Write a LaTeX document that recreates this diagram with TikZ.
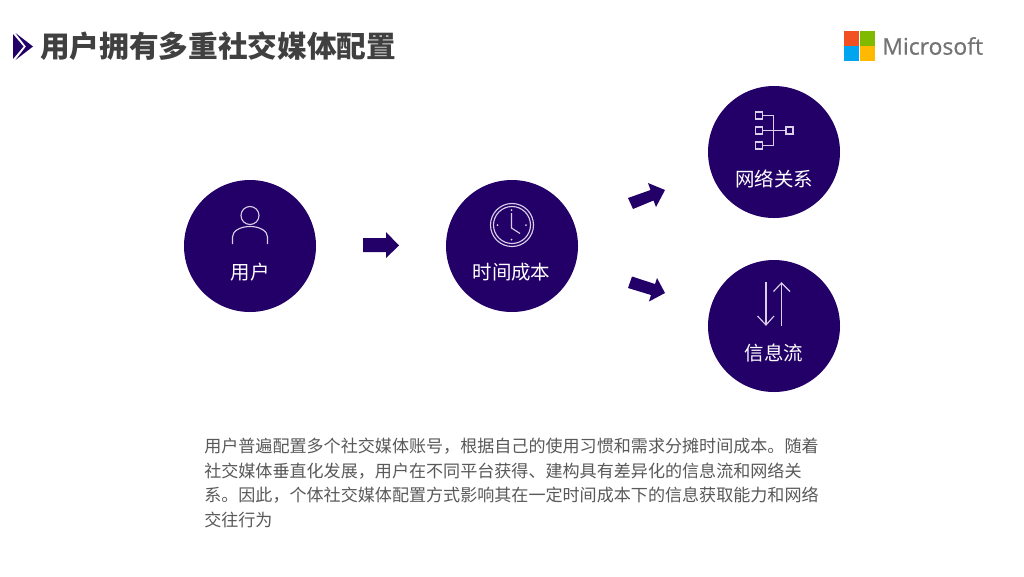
\documentclass[tikz,border=0pt]{standalone}
\usepackage{fontspec}
\setmainfont{Noto Sans CJK SC}
\newfontfamily\latinfont[FakeBold=0.6]{Open Sans}
\definecolor{deep}{HTML}{230068}
\definecolor{ink}{HTML}{404040}
\definecolor{bodyink}{HTML}{595959}
\definecolor{iconline}{HTML}{D9CFE8}
\definecolor{msgray}{HTML}{737373}
\tikzset{
  bubble/.style={circle,fill=deep,draw=none,minimum size=99pt,inner sep=0pt},
  bubbletext/.style={text=white,font=\fontsize{14.6pt}{16pt}\selectfont,inner sep=0pt,anchor=center},
  bodyline/.style={text=bodyink,font=\fontsize{12.8pt}{14pt}\selectfont,inner sep=0pt,anchor=west},
  iconstroke/.style={draw=iconline,line width=0.85pt},
  blockarrow/.style={fill=deep,draw=none},
  tile/.style={draw=none,minimum size=10.8pt,inner sep=0pt,anchor=north west}
}
\begin{document}
\begin{tikzpicture}[x=0.75pt,y=-0.75pt]
\useasboundingbox (0,0) rectangle (1024,576);
\fill[white] (0,0) rectangle (1024,576);
% title
\fill[deep] (15.5,33) -- (33,46.5) -- (15.5,60) -- (26,46.5) -- cycle;
\fill[deep] (13,34) -- (23.5,46.5) -- (13,59) -- cycle;
\node[text=ink,font=\fontsize{22.25pt}{24pt}\selectfont\bfseries,inner sep=0pt,anchor=west] (title) at (40,46) {用户拥有多重社交媒体配置};
% logo
\node[tile,fill={rgb,255:red,242;green,80;blue,34}] (t1) at (844,31) {};
\node[tile,fill={rgb,255:red,127;green,186;blue,0}] (t2) at (860,31) {};
\node[tile,fill={rgb,255:red,0;green,164;blue,239}] (t3) at (844,46) {};
\node[tile,fill={rgb,255:red,255;green,185;blue,0}] (t4) at (860,46) {};
\node[text=msgray,font=\latinfont\fontsize{17.2pt}{20pt}\selectfont,inner sep=0pt,anchor=west] (ms) at (882,46) {Microsoft};
% bubbles
\node[bubble] (user) at (250,246) {};
\node[bubble] (time) at (512,246) {};
\node[bubble] (net) at (774,152) {};
\node[bubble] (info) at (774,326) {};
\node[bubbletext] (userlabel) at (250,272) {用户};
\node[bubbletext] (timelabel) at (511.5,272) {时间成本};
\node[bubbletext] (netlabel) at (774,179) {网络关系};
\node[bubbletext] (infolabel) at (774,353) {信息流};
% user icon
\draw[iconstroke] (250,215.5) circle (9);
\draw[iconstroke] (232.5,244) -- (232.5,237) .. controls (232.5,231) and (240,226.5) .. (250,226.5) .. controls (260,226.5) and (267.5,231) .. (267.5,237) -- (267.5,244);
% clock icon
\draw[iconstroke] (512,225) circle (21.5);
\draw[iconstroke] (512,225) circle (18.5);
\draw[iconstroke] (511.5,213) -- (511.5,228) -- (520,233.5);
\foreach \a/\b in {511.5/210,511.5/239.5,497.5/225,526/225} \fill[iconline] (\a,\b) circle (1);
% network icon
\draw[iconstroke] (755.5,112) rectangle (762.5,119);
\draw[iconstroke] (755.5,127) rectangle (762.5,134);
\draw[iconstroke] (755.5,142) rectangle (762.5,149);
\draw[iconstroke] (786,127) rectangle (793,134);
\draw[iconstroke] (762.5,115.5) -- (773.5,115.5) -- (773.5,145.5) -- (762.5,145.5);
\draw[iconstroke] (762.5,130.5) -- (786,130.5);
% flow icon
\draw[iconstroke] (766,282) -- (766,325);
\draw[iconstroke] (757.5,316) -- (766,325) -- (774,316);
\draw[iconstroke] (781.5,325.5) -- (781.5,283);
\draw[iconstroke] (773.5,291.5) -- (781.5,283) -- (790,291.5);
% block arrows
\fill[blockarrow] (363,238) -- (386,238) -- (386,232) -- (399,245.5) -- (386,258) -- (386,252) -- (363,252) -- cycle;
\fill[blockarrow] (628,198) -- (650.5,190) -- (648,183) -- (665,190) -- (656,207) -- (653.5,200.5) -- (633,209) -- cycle;
\fill[blockarrow] (632,276.5) -- (655,284) -- (657,278) -- (665,293) -- (649,301.5) -- (651,295) -- (628,288) -- cycle;
% body
\node[bodyline] (b1) at (204,446) {用户普遍配置多个社交媒体账号，根据自己的使用习惯和需求分摊时间成本。随着};
\node[bodyline] (b2) at (204,471) {社交媒体垂直化发展，用户在不同平台获得、建构具有差异化的信息流和网络关};
\node[bodyline] (b3) at (204,495) {系。因此，个体社交媒体配置方式影响其在一定时间成本下的信息获取能力和网络};
\node[bodyline] (b4) at (204,520) {交往行为};
\end{tikzpicture}
\end{document}
